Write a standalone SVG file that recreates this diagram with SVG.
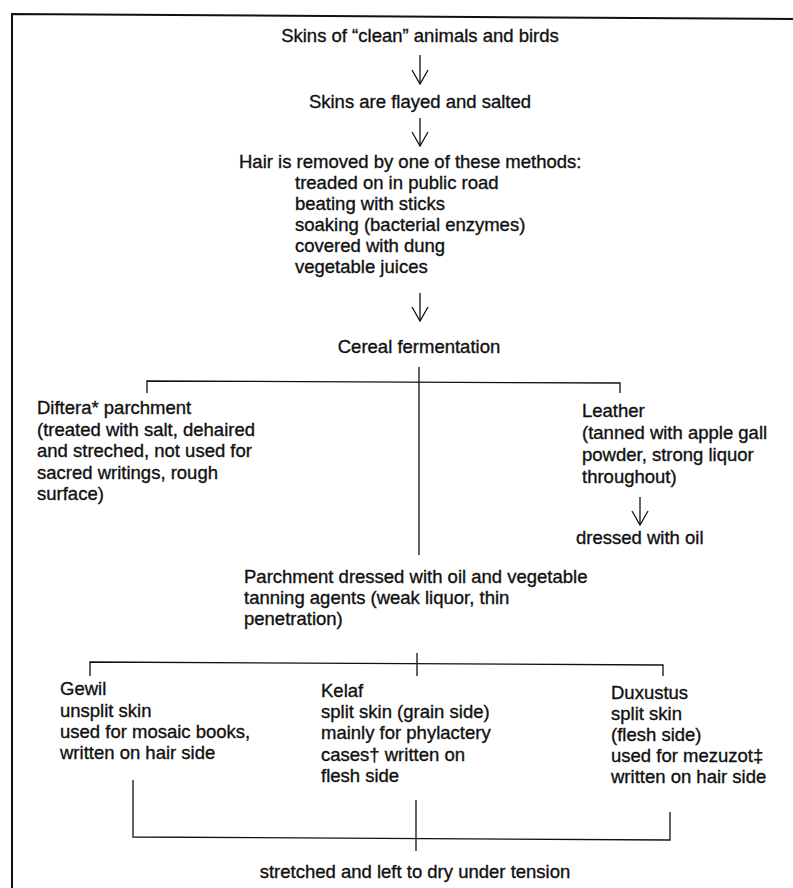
<svg xmlns="http://www.w3.org/2000/svg" width="793" height="888" viewBox="0 0 793 888">
<style>
text{font-family:"Liberation Sans",Arial,sans-serif;font-size:18.5px;fill:#111;stroke:#111;stroke-width:0.35}
.c{text-anchor:middle}
.ln{stroke:#111;stroke-width:1.3;fill:none}
.fr{stroke:#111;stroke-width:2;fill:none}
</style>
<defs>
<marker id="ah" viewBox="0 0 16 18" refX="15" refY="9" markerWidth="16" markerHeight="18" markerUnits="userSpaceOnUse" orient="auto">
<path d="M1,1 L15,9 L1,17" fill="none" stroke="#111" stroke-width="1.3"/>
</marker>
</defs>
<rect width="793" height="888" fill="#fff"/>
<path class="fr" d="M12,888 L12,14 L793,19"/>
<g id="connectors">
<line class="ln" x1="420" y1="55" x2="420" y2="84" marker-end="url(#ah)"/>
<line class="ln" x1="420" y1="118" x2="420" y2="146" marker-end="url(#ah)"/>
<line class="ln" x1="420" y1="293" x2="420" y2="321" marker-end="url(#ah)"/>
<line class="ln" x1="640" y1="497" x2="640" y2="525" marker-end="url(#ah)"/>
<line class="ln" x1="419" y1="367" x2="419" y2="555"/>
<path class="ln" d="M147,393 L147,381 L620,383 L620,393"/>
<path class="ln" d="M90,676 L90,662 L663,665 L663,676"/>
<line class="ln" x1="417" y1="653" x2="417" y2="676"/>
<path class="ln" d="M133,780 L133,837 L670,840 L670,812"/>
<line class="ln" x1="416" y1="800" x2="416" y2="851"/>
</g>
<g id="n1"><text class="c" x="420" y="42">Skins of “clean” animals and birds</text></g>
<g id="n2"><text class="c" x="420" y="108">Skins are flayed and salted</text></g>
<g id="n3">
<text x="239" y="168">Hair is removed by one of these methods:</text>
<text x="295" y="189">treaded on in public road</text>
<text x="295" y="210">beating with sticks</text>
<text x="295" y="231">soaking (bacterial enzymes)</text>
<text x="295" y="252">covered with dung</text>
<text x="295" y="273">vegetable juices</text>
</g>
<g id="n4"><text class="c" x="419" y="353">Cereal fermentation</text></g>
<g id="n5">
<text x="37" y="414">Diftera* parchment</text>
<text x="37" y="435.5">(treated with salt, dehaired</text>
<text x="37" y="457">and streched, not used for</text>
<text x="37" y="478.5">sacred writings, rough</text>
<text x="37" y="500">surface)</text>
</g>
<g id="n6">
<text x="582" y="417">Leather</text>
<text x="582" y="439">(tanned with apple gall</text>
<text x="582" y="461">powder, strong liquor</text>
<text x="582" y="483">throughout)</text>
</g>
<g id="n7"><text x="576" y="544">dressed with oil</text></g>
<g id="n8">
<text x="244" y="583">Parchment dressed with oil and vegetable</text>
<text x="244" y="604">tanning agents (weak liquor, thin</text>
<text x="244" y="625">penetration)</text>
</g>
<g id="n9">
<text x="60" y="695">Gewil</text>
<text x="60" y="717">unsplit skin</text>
<text x="60" y="738">used for mosaic books,</text>
<text x="60" y="759">written on hair side</text>
</g>
<g id="n10">
<text x="321" y="697">Kelaf</text>
<text x="321" y="718">split skin (grain side)</text>
<text x="321" y="739">mainly for phylactery</text>
<text x="321" y="761">cases† written on</text>
<text x="321" y="782">flesh side</text>
</g>
<g id="n11">
<text x="611" y="699">Duxustus</text>
<text x="611" y="720">split skin</text>
<text x="611" y="741">(flesh side)</text>
<text x="611" y="762">used for mezuzot‡</text>
<text x="611" y="783">written on hair side</text>
</g>
<g id="n12"><text class="c" x="415" y="878">stretched and left to dry under tension</text></g>
</svg>
